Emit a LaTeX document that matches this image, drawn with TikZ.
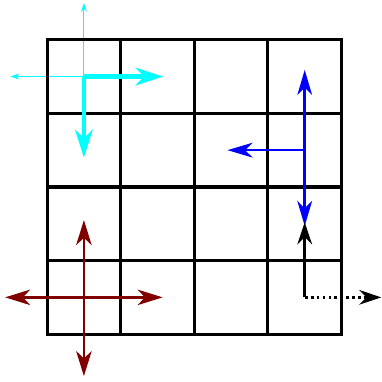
\documentclass[tikz,border=0pt]{standalone}
\usepackage{xcolor}
\usepackage{tikz}
\usetikzlibrary{arrows.meta}
\definecolor{Ink}{HTML}{000000}
\definecolor{Aqua}{HTML}{00FFFF}
\definecolor{Pure}{HTML}{0000FF}
\definecolor{Maroon}{HTML}{800000}
\tikzset{
  gridline/.style={draw=Ink,line width=1.2pt,line cap=rect},
  thickaqua/.style={draw=Aqua,line width=1.6pt,-{Stealth[length=3.8mm,width=2.4mm,inset=1.2mm]}},
  thinaqua/.style={draw=Aqua,line width=0.4pt,-{Stealth[length=1.2mm,width=0.8mm]}},
  bluearrow/.style={draw=Pure,line width=1pt,-{Stealth[length=3.4mm,width=2mm,inset=1mm]}},
  redarrow/.style={draw=Maroon,line width=1pt,-{Stealth[length=3.4mm,width=2.1mm,inset=1mm]}},
  blackarrow/.style={draw=Ink,line width=1pt,-{Stealth[length=3mm,width=2mm,inset=1mm]}},
  dotline/.style={blackarrow,dash pattern={on 1.1pt off 1.2pt}}
}

\begin{document}
\begin{tikzpicture}
  \useasboundingbox (-0.64,-0.65) rectangle (4.54,4.54);
  % cell centres
  \coordinate (aqua) at (0.5,3.5);
  \coordinate (blue) at (3.5,2.5);
  \coordinate (black) at (3.5,0.5);
  \coordinate (red) at (0.5,0.5);
  % thin cyan pair, under the grid
  \draw[thinaqua] (aqua) -- ++(0,1);
  \draw[thinaqua] (aqua) -- ++(-1,0);
  \draw[gridline] (0,0) grid (4,4);
  % thick cyan pair
  \draw[thickaqua] (aqua) -- ++(1.08,0);
  \draw[thickaqua] (aqua) -- ++(0,-1.1);
  % blue three
  \draw[bluearrow] (blue) -- ++(0,1.09);
  \draw[bluearrow] (blue) -- ++(0,-1.03);
  \draw[bluearrow] (blue) -- ++(-1.05,0);
  % black pair
  \draw[blackarrow] (black) -- ++(0,1.02);
  \draw[dotline] (black) -- ++(1.04,0);
  % red cross
  \foreach \dx/\dy in {1.07/0,-1.07/0,0/1.05,0/-1.07}
    \draw[redarrow] (red) -- ++(\dx,\dy);
\end{tikzpicture}
\end{document}
